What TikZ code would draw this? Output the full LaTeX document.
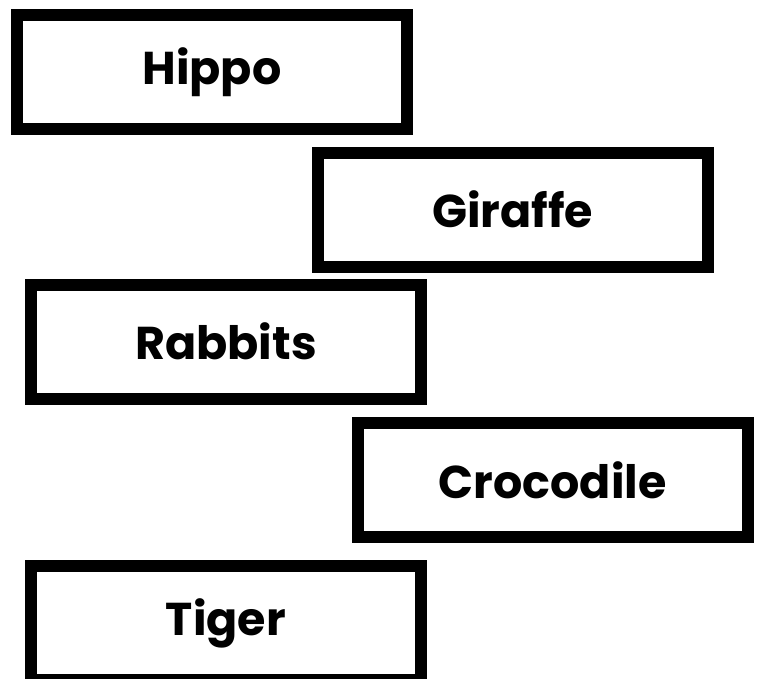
\documentclass[tikz,border=0pt]{standalone}
\usepackage{fontspec}
\setmainfont{Poppins}
\usetikzlibrary{positioning}

\begin{document}
\begin{tikzpicture}[x=1pt,y=-1pt]
\useasboundingbox (0,0) rectangle (759,678);
\begin{scope}[every node/.style={draw=black, line width=12pt, rectangle,
    minimum width=390pt, minimum height=114pt, inner sep=0pt,
    font=\fontsize{46}{54}\selectfont\bfseries}]

\node (hippo)     at (212,72)      {Hippo};
\node (giraffe)   at (512.5,209.6) {Giraffe};
\node (rabbits)   at (226,341.5)   {Rabbits};
\node (crocodile) at (552.7,480.4) {Crocodile};
\node (tiger)     at (226,623)     {Tiger};

\end{scope}
\end{tikzpicture}
\end{document}
